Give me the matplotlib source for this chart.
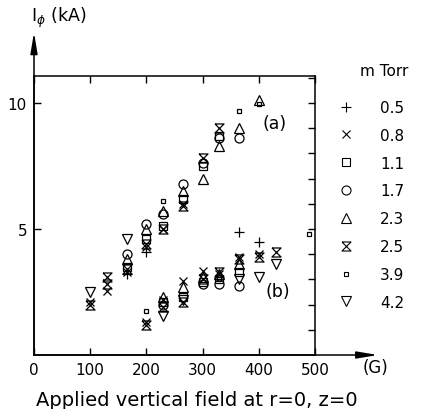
import matplotlib
matplotlib.use("Agg")
import matplotlib.pyplot as plt
from matplotlib.path import Path
from matplotlib.lines import Line2D

# pressure series (m Torr), field in G, current in kA
pressures = ["0.5", "0.8", "1.1", "1.7", "2.3", "2.5", "3.9", "4.2"]

b_05 = [200, 165, 365, 400]
i_05 = [4.1, 3.2, 4.9, 4.5]

b_08 = [100, 130, 165, 200, 230, 265, 200, 230, 265, 300, 330, 365, 400]
i_08 = [2.1, 2.55, 3.3, 4.3, 5.0, 6.0, 1.3, 2.2, 2.95, 3.35, 3.2, 3.9, 4.0]

b_11 = [165, 200, 230, 265, 300, 330, 230, 265, 300, 330, 365]
i_11 = [3.5, 4.6, 5.1, 6.2, 7.5, 8.7, 2.1, 2.3, 2.9, 3.0, 3.3]

b_17 = [165, 200, 230, 265, 300, 330, 365, 230, 300, 330, 365]
i_17 = [4.0, 5.2, 5.6, 6.8, 7.6, 8.6, 8.6, 2.0, 2.8, 2.8, 2.75]

b_23 = [165, 200, 230, 265, 300, 330, 365, 400, 230, 265, 300, 330, 365]
i_23 = [3.8, 5.0, 5.7, 6.5, 7.0, 8.3, 9.0, 10.1, 2.3, 2.7, 3.1, 3.2, 3.6]

b_25 = [100, 130, 165, 200, 230, 265, 300, 330,
        130, 200, 230, 265, 300, 330, 365, 400, 430]
i_25 = [2.0, 3.1, 3.4, 4.4, 5.0, 5.9, 7.8, 9.0,
        2.8, 1.2, 1.9, 2.1, 3.0, 3.3, 3.8, 3.9, 4.1]

b_39 = [230, 365, 400, 200, 330, 490]
i_39 = [6.1, 9.7, 9.95, 1.75, 3.0, 4.8]

b_42 = [100, 165, 230, 265, 365, 400, 430]
i_42 = [2.5, 4.6, 1.55, 2.2, 3.0, 3.1, 3.6]

fields = [b_05, b_08, b_11, b_17, b_23, b_25, b_39, b_42]
currents = [i_05, i_08, i_11, i_17, i_23, i_25, i_39, i_42]

# hourglass marker for 2.5 mTorr
hourglass = Path([(-1, 1), (1, 1), (-1, -1), (1, -1), (-1, 1)])
markers = ["+", "x", "s", "o", "^", hourglass, "s", "v"]
sizes = [7, 6, 6, 6.5, 6.5, 6.5, 3, 6.5]

W, H = 423, 410
fig = plt.figure(figsize=(W / 100, H / 100), dpi=100)
ax = fig.add_axes([34 / W, 1 - 356 / H, 281 / W, 279 / H])

handles = []
for b, cur, m, s, p in zip(fields, currents, markers, sizes, pressures):
    ax.plot(b, cur, linestyle="none", marker=m, markersize=s,
            markerfacecolor="none", markeredgecolor="black",
            markeredgewidth=0.9, clip_on=False)
    handles.append(Line2D([], [], linestyle="none", marker=m, markersize=s,
                          markerfacecolor="none", markeredgecolor="black",
                          markeredgewidth=0.8, label=p))

ax.set_xlim(0, 500)
ax.set_ylim(0, 11.07)
ax.set_xticks([0, 100, 200, 300, 400, 500])
ax.set_xticklabels(["0", "100", "200", "300", "400", "500"])
ax.set_yticks([5, 10])
ax.set_yticks([1, 2, 3, 4, 6, 7, 8, 9, 11], minor=True)
ax.tick_params(axis="both", which="major", direction="in", length=5,
               width=1, labelsize=11, top=True, right=True, pad=5)
ax.tick_params(axis="y", which="minor", direction="in", length=5, width=1,
               left=False, right=True)
for sp in ax.spines.values():
    sp.set_linewidth(1.1)

# axis arrows
ax.annotate("", xy=(612, 0), xytext=(0, 0), annotation_clip=False,
            arrowprops=dict(arrowstyle="-|>,head_length=0.9,head_width=0.15",
                            lw=1.1, color="black", mutation_scale=14,
                            shrinkA=0, shrinkB=0))
ax.annotate("", xy=(0, 12.8), xytext=(0, 0), annotation_clip=False,
            arrowprops=dict(arrowstyle="-|>,head_length=0.9,head_width=0.15",
                            lw=1.1, color="black", mutation_scale=14,
                            shrinkA=0, shrinkB=0))

def fpos(px, py):
    return px / W, 1 - py / H

fig.text(*fpos(31, 18), r"I$_\phi$ (kA)", fontsize=12.5, ha="left", va="center")
fig.text(*fpos(375, 368), "(G)", fontsize=12, ha="center", va="center")
fig.text(*fpos(197, 401), "Applied vertical field at r=0, z=0",
         fontsize=14, ha="center", va="center")
fig.text(*fpos(275, 124), "(a)", fontsize=12.5, ha="center", va="center")
fig.text(*fpos(278, 292), "(b)", fontsize=12.5, ha="center", va="center")
fig.text(*fpos(384, 72), "m Torr", fontsize=11, ha="center", va="center")

fig.legend(handles=handles, loc="upper left", bbox_to_anchor=fpos(331, 101),
           frameon=False, fontsize=11, labelspacing=0.84, handlelength=2.0,
           handletextpad=1.2, borderaxespad=0, borderpad=0)

fig.savefig("out.png", dpi=100)
